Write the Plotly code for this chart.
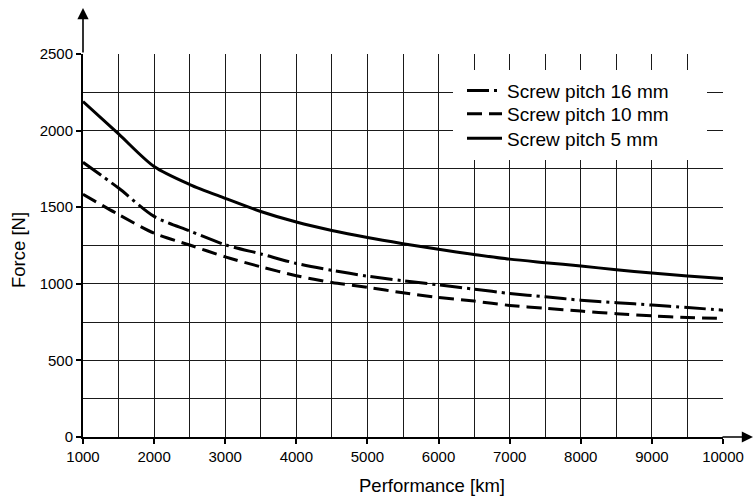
import plotly.graph_objects as go

performance_km = [1000, 1500, 2000, 2500, 3000, 3500, 4000, 4500, 5000, 5500,
                  6000, 6500, 7000, 7500, 8000, 8500, 9000, 9500, 10000]
force_pitch_16 = [1793, 1625, 1440, 1345, 1255, 1195, 1133, 1088, 1050, 1020,
                  993, 965, 937, 915, 893, 877, 861, 845, 828]
force_pitch_10 = [1584, 1452, 1330, 1253, 1176, 1111, 1053, 1009, 977, 941,
                  911, 887, 859, 840, 822, 805, 791, 780, 774]
force_pitch_5 = [2190, 1978, 1765, 1648, 1558, 1472, 1403, 1348, 1302, 1262,
                 1225, 1192, 1161, 1138, 1116, 1092, 1070, 1051, 1035]
series_names = ["Screw pitch 16 mm", "Screw pitch 10 mm", "Screw pitch 5 mm"]
x_ticks = [1000, 2000, 3000, 4000, 5000, 6000, 7000, 8000, 9000, 10000]
y_ticks = [0, 500, 1000, 1500, 2000, 2500]

FONT = "Liberation Sans, Arial, sans-serif"

fig = go.Figure()
styles = [
    (force_pitch_16, "22px,5px,3px,5px", "legend", 90.7),
    (force_pitch_10, "15px,7px", "legend2", 114.0),
    (force_pitch_5, "solid", "legend3", 138.3),
]
legend_layouts = {}
for name, (vals, dash, lg, ypix) in zip(series_names, styles):
    fig.add_trace(go.Scatter(
        x=performance_km, y=vals, name=name, mode="lines", legend=lg,
        line=dict(color="black", width=3, dash=dash, shape="spline", smoothing=0.8),
    ))
    legend_layouts[lg] = dict(
        x=(462 - 83) / 640, y=(437 - ypix) / 383, xanchor="left", yanchor="middle",
        bgcolor="rgba(0,0,0,0)", borderwidth=0, itemwidth=35,
        font=dict(size=19, family=FONT, color="black"),
    )

grid_col = "#1a1a1a"
fig.update_layout(
    width=755, height=497,
    margin=dict(l=83, r=32, t=54, b=60),
    paper_bgcolor="white", plot_bgcolor="white",
    font=dict(family=FONT, color="black"),
    showlegend=True,
    **legend_layouts,
    xaxis=dict(
        range=[1000, 10000], tickvals=x_ticks, ticktext=[str(v) for v in x_ticks],
        showgrid=True, gridcolor=grid_col, gridwidth=1,
        minor=dict(dtick=500, showgrid=True, gridcolor=grid_col, gridwidth=1),
        showline=True, linecolor="black", linewidth=2,
        ticks="outside", ticklen=5, tickwidth=1.5, tickcolor="black",
        tickfont=dict(size=15, family=FONT, color="black"),
        zeroline=False,
    ),
    yaxis=dict(
        range=[0, 2500], tickvals=y_ticks, ticktext=[str(v) for v in y_ticks],
        showgrid=True, gridcolor=grid_col, gridwidth=1,
        minor=dict(dtick=250, showgrid=True, gridcolor=grid_col, gridwidth=1),
        showline=True, linecolor="black", linewidth=2,
        ticks="outside", ticklen=5, tickwidth=1.5, tickcolor="black",
        tickfont=dict(size=15, family=FONT, color="black"),
        zeroline=False,
    ),
    shapes=[
        dict(type="rect", xref="paper", yref="paper",
             x0=(453 - 83) / 640, x1=(707 - 83) / 640,
             y0=(437 - 160) / 383, y1=(437 - 70) / 383,
             fillcolor="white", line=dict(width=0), layer="above"),
    ],
    annotations=[
        dict(text="Performance [km]", xref="paper", yref="paper",
             x=(431.5 - 83) / 640, y=(437 - 485) / 383,
             xanchor="center", yanchor="middle", showarrow=False,
             font=dict(size=18.5, family=FONT, color="black")),
        dict(text="Force [N]", xref="paper", yref="paper",
             x=(18 - 83) / 640, y=(437 - 250) / 383, textangle=-90,
             xanchor="center", yanchor="middle", showarrow=False,
             font=dict(size=18.5, family=FONT, color="black")),
        # y-axis arrow
        dict(text="", xref="paper", yref="paper", x=0, y=(437 - 8) / 383,
             ax=0, ay=46, axref="pixel", ayref="pixel", showarrow=True,
             arrowhead=2, arrowsize=1.4, arrowwidth=1.6, arrowcolor="black"),
        # x-axis arrow
        dict(text="", xref="paper", yref="paper", x=(753 - 83) / 640, y=0,
             ax=-32, ay=0, axref="pixel", ayref="pixel", showarrow=True,
             arrowhead=2, arrowsize=1.4, arrowwidth=1.6, arrowcolor="black"),
    ],
)

fig.write_html("out.html", config={"displayModeBar": False},
               post_script="document.body.style.margin='0';")
